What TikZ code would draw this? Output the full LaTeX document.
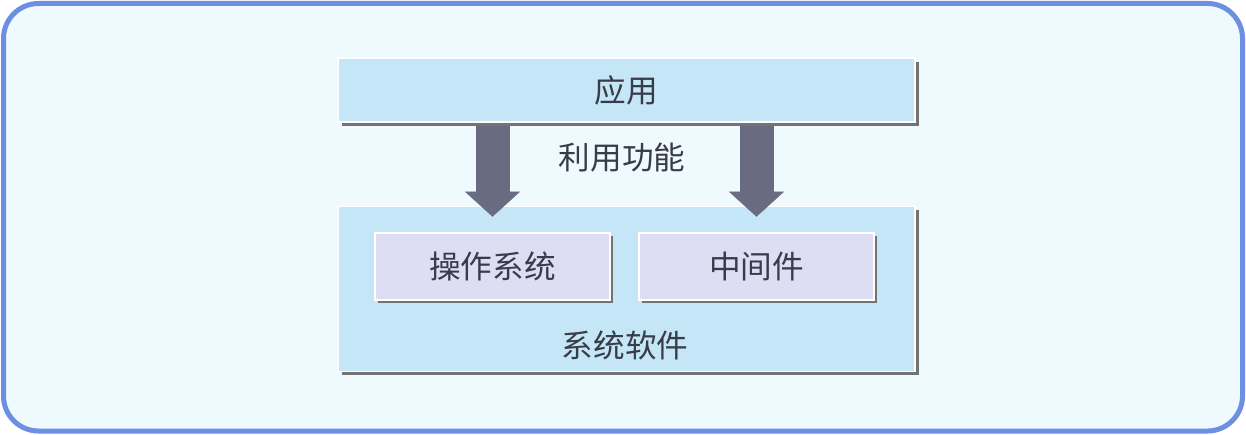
\documentclass[tikz,border=0pt]{standalone}
\usepackage{fontspec}
\newfontfamily\cjk{Noto Sans CJK SC}
\usepackage{tikz}
\usetikzlibrary{positioning,arrows.meta,shadows}

\definecolor{framebg}{HTML}{EFFAFF}
\definecolor{frameline}{HTML}{6C8FE2}
\definecolor{layerfill}{HTML}{C4E6F7}
\definecolor{partfill}{HTML}{DDDDF4}
\definecolor{arrowgray}{HTML}{696C80}
\definecolor{txtgray}{HTML}{3A3B48}

\begin{document}
\begin{tikzpicture}[
  font=\cjk\fontsize{18}{20}\selectfont,
  text=txtgray,
  layer/.style={fill=layerfill, draw=white, line width=0.8pt, minimum width=11.54cm,
    drop shadow={shadow xshift=0.07cm, shadow yshift=-0.07cm, fill=black!55, opacity=1}},
  part/.style={fill=partfill, draw=white, line width=1.5pt, minimum width=4.7cm, minimum height=1.34cm,
    drop shadow={shadow xshift=0.06cm, shadow yshift=-0.06cm, fill=black!55, opacity=1}},
  bigarr/.style={arrowgray, line width=0.68cm,
    -{Triangle[width=1.1cm, length=0.5cm, line width=0.1pt]}}
]
\useasboundingbox (0,0) rectangle (24.92,8.68);
\draw[frameline, fill=framebg, line width=0.1cm, rounded corners=0.7cm] (0.07,0.06) rectangle (24.85,8.61);

\node[layer, minimum height=1.28cm] (app) at (12.53,6.88) {应用};
\node[layer, minimum height=3.3cm, below=1.66cm of app] (sys) {};
\node (syslbl) at (12.5,1.78) {系统软件};
\node[part] (os) at (9.85,3.35) {操作系统};
\node[part] (mw) at (15.13,3.35) {中间件};

\draw[bigarr] ([yshift=-0.06cm]app.south -| os.north) -- ([yshift=0.3cm]os.north);
\draw[bigarr] ([yshift=-0.06cm]app.south -| mw.north) -- ([yshift=0.3cm]mw.north);
\node (use) at (12.44,5.52) {利用功能};
\end{tikzpicture}
\end{document}
